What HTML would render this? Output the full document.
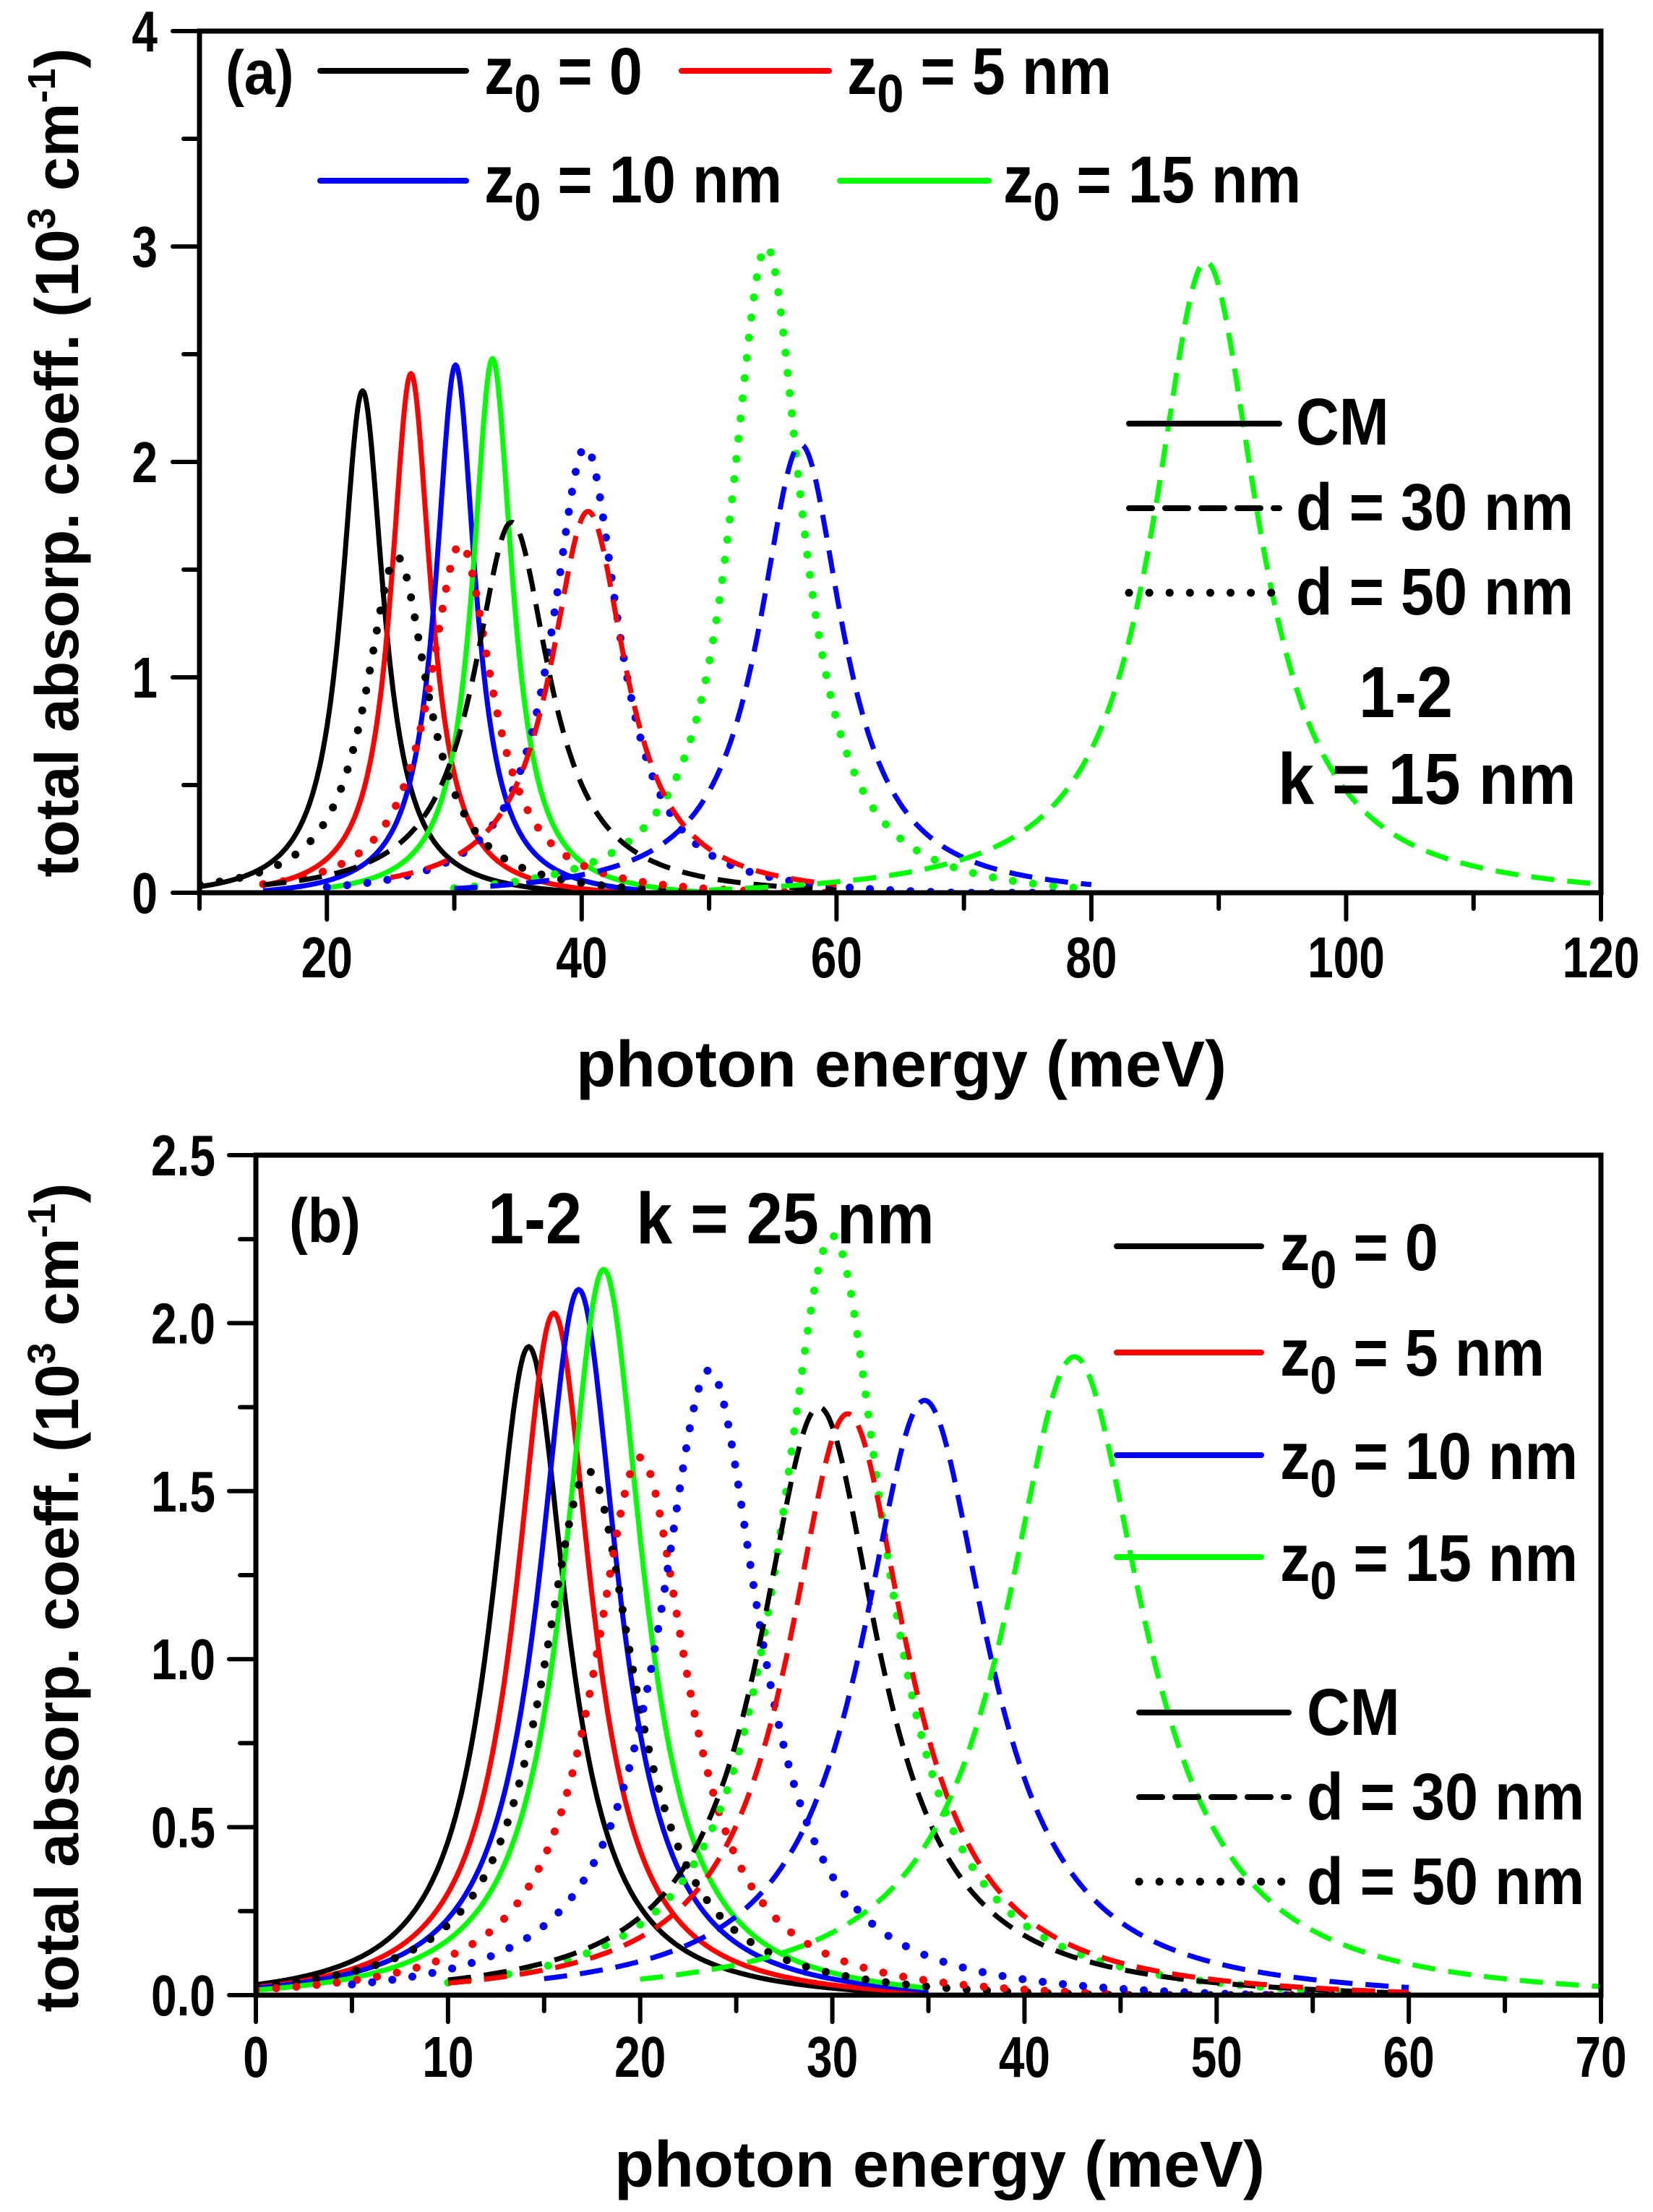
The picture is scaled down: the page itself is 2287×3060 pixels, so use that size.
<!DOCTYPE html>
<html><head><meta charset="utf-8"><style>
html,body{margin:0;padding:0;background:#fff;}
svg{display:block;}
.n{font-family:"Liberation Sans Narrow","Liberation Sans",sans-serif;font-weight:bold;}
.w{font-family:"Liberation Sans",sans-serif;font-weight:bold;}
</style></head><body>
<svg id="s" width="2287" height="3060" viewBox="0 0 2287 3060" xmlns="http://www.w3.org/2000/svg">
<defs>
<clipPath id="ca"><rect x="276" y="43" width="1939" height="1192"/></clipPath>
<clipPath id="cb"><rect x="354" y="1598" width="1861" height="1162"/></clipPath>
</defs>
<g id="ga" clip-path="url(#ca)"></g>
<g id="gb" clip-path="url(#cb)"></g>
<g id="ax"></g>
<g id="lg">
<text class="n" x="312" y="130" font-size="86">(a)</text>
<text class="n" x="670" y="130" font-size="92">z<tspan dy="25" font-size="74">0</tspan><tspan dy="-25"> = 0</tspan></text>
<text class="n" x="1172" y="130" font-size="92">z<tspan dy="25" font-size="74">0</tspan><tspan dy="-25"> = 5 nm</tspan></text>
<text class="n" x="670" y="280" font-size="92">z<tspan dy="25" font-size="74">0</tspan><tspan dy="-25"> = 10 nm</tspan></text>
<text class="n" x="1388" y="280" font-size="92">z<tspan dy="25" font-size="74">0</tspan><tspan dy="-25"> = 15 nm</tspan></text>
<text class="n" x="1793" y="615" font-size="92">CM</text>
<text class="n" x="1793" y="733" font-size="92">d = 30 nm</text>
<text class="n" x="1793" y="850" font-size="92">d = 50 nm</text>
<text class="n" x="1945" y="992" font-size="100" text-anchor="middle">1-2</text>
<text class="n" x="1768" y="1112" font-size="100">k = 15 nm</text>
<text class="n" x="400" y="1718" font-size="86">(b)</text>
<text class="n" x="675" y="1720" font-size="100" xml:space="preserve">1-2   k = 25 nm</text>
<text class="n" x="1771" y="1757" font-size="92">z<tspan dy="25" font-size="74">0</tspan><tspan dy="-25"> = 0</tspan></text>
<text class="n" x="1771" y="1903" font-size="92">z<tspan dy="25" font-size="74">0</tspan><tspan dy="-25"> = 5 nm</tspan></text>
<text class="n" x="1771" y="2046" font-size="92">z<tspan dy="25" font-size="74">0</tspan><tspan dy="-25"> = 10 nm</tspan></text>
<text class="n" x="1771" y="2187" font-size="92">z<tspan dy="25" font-size="74">0</tspan><tspan dy="-25"> = 15 nm</tspan></text>
<text class="n" x="1808" y="2400" font-size="92">CM</text>
<text class="n" x="1808" y="2517" font-size="92">d = 30 nm</text>
<text class="n" x="1808" y="2634" font-size="92">d = 50 nm</text>
</g>
<g id="tx"></g>
<text class="w" x="1247" y="1503" font-size="90" text-anchor="middle">photon energy (meV)</text>
<text class="w" font-size="84" text-anchor="middle" transform="translate(108,640) rotate(-90)">total absorp. coeff. (10<tspan dy="-32" font-size="54">3</tspan><tspan dy="32"> cm</tspan><tspan dy="-32" font-size="54">-1</tspan><tspan dy="32">)</tspan></text>
<text class="w" x="1300" y="3025" font-size="90" text-anchor="middle">photon energy (meV)</text>
<text class="w" font-size="84" text-anchor="middle" transform="translate(108,2210) rotate(-90)">total absorp. coeff. (10<tspan dy="-32" font-size="54">3</tspan><tspan dy="32"> cm</tspan><tspan dy="-32" font-size="54">-1</tspan><tspan dy="32">)</tspan></text>
</svg>
<script>
var NS="http://www.w3.org/2000/svg";
function el(p,t,a){var e=document.createElementNS(NS,t);for(var k in a)e.setAttribute(k,a[k]);p.appendChild(e);return e;}
var C={k:"#000",r:"#f00",b:"#00f",g:"#0f0"};
var STY={s:{},d:{"stroke-dasharray":"32 18"},o:{"stroke-dasharray":"0.1 28","stroke-linecap":"round"}};
function curves(g,P,list){
 list.forEach(function(c){
  var col=c[0],st=c[1],E0=c[2],H=c[3],G=c[4],a=c[5],b=c[6];
  var d="";
  for(var x=a;x<=b+1e-9;x+=0.1){
   var y=(H/0.988)/(1+Math.pow((x-E0)/G,2));
   y=Math.max(0,y-H*0.012);
   var px=P.x0+(x-P.xa)*P.sx, py=P.y0-y*P.sy;
   d+=(d?"L":"M")+px.toFixed(1)+" "+py.toFixed(1);
  }
  var a2={d:d,fill:"none",stroke:C[col],"stroke-width":st=="o"?11:7,"stroke-linejoin":"round"};
  for(var k in STY[st])a2[k]=STY[st][k];
  el(g,"path",a2);
 });
}
var PA={x0:276,xa:10,sx:(2215-276)/110,y0:1235,sy:298};
var PB={x0:354,xa:0,sx:(2215-354)/70,y0:2760,sy:(2760-1598)/2.5};
curves(document.getElementById("ga"),PA,[
 ["k","s",22.8,2.33,2.0,10,40],["r","s",26.6,2.41,1.9,15,45],["b","s",30.1,2.45,1.9,15,45],["g","s",33.0,2.48,1.9,20,50],
 ["k","o",25.5,1.56,3.0,10,50],["r","o",30.5,1.62,3.0,15,60],["b","o",40.3,2.07,3.2,20,80],["g","o",54.5,3.0,3.4,30,80],
 ["k","d",34.5,1.72,3.6,15,60],["r","d",40.5,1.77,3.6,25,60],["b","d",57.2,2.08,4.0,30,80],["g","d",89.0,2.93,5.0,50,120]
]);
curves(document.getElementById("gb"),PB,[
 ["k","s",14.2,1.93,2.4,0,35],["r","s",15.5,2.03,2.4,0,35],["b","s",16.8,2.10,2.5,0,35],["g","s",18.1,2.16,2.5,0,35],
 ["k","o",17.3,1.56,3.0,0,60],["r","o",20.0,1.60,3.0,0,60],["b","o",23.6,1.86,3.2,5,60],["g","o",30.0,2.26,3.4,10,60],
 ["k","d",29.3,1.75,3.8,10,60],["r","d",30.8,1.73,3.8,10,60],["b","d",34.8,1.77,4.0,15,60],["g","d",42.6,1.90,4.4,20,70]
]);
var ax=document.getElementById("ax");
function legline(x1,x2,y,col,st){var a={x1:x1,x2:x2,y1:y,y2:y,stroke:C[col],"stroke-width":st=="o"?11:8,"stroke-linecap":"round"};for(var k in STY[st])a[k]=STY[st][k];el(ax,"line",a);}
legline(443,645,98,"k","s");legline(943,1147,98,"r","s");legline(443,645,250,"b","s");legline(1162,1368,250,"g","s");
legline(1562,1770,586,"k","s");legline(1562,1770,703,"k","d");legline(1562,1770,820,"k","o");
legline(1545,1745,1724,"k","s");legline(1545,1745,1871,"r","s");legline(1545,1745,2013,"b","s");legline(1545,1745,2154,"g","s");
legline(1576,1783,2369,"k","s");legline(1576,1783,2486,"k","d");legline(1576,1783,2603,"k","o");
var tx=document.getElementById("tx");
function frame(P,x1,y1,xmin,xmax,xmaj,xmin2,ymax,ymaj,ymin2,xdec,ydec,xly,yrx){
 el(ax,"rect",{x:P.x0,y:y1,width:x1-P.x0,height:P.y0-y1,fill:"none",stroke:"#000","stroke-width":7});
 for(var v=xmin;v<=xmax+1e-9;v+=xmin2){var px=P.x0+(v-P.xa)*P.sx;var maj=Math.abs(v/xmaj-Math.round(v/xmaj))<1e-6;
  el(ax,"line",{x1:px,x2:px,y1:P.y0,y2:P.y0+(maj?37:22),stroke:"#000","stroke-width":6,"stroke-linecap":"round"});
  if(maj&&v>=P.xa-1e-9){var t=el(tx,"text",{x:px,y:xly,"font-size":80,"text-anchor":"middle","class":"n"});t.textContent=v.toFixed(xdec);}}
 for(var v=0;v<=ymax+1e-9;v+=ymin2){var py=P.y0-v*P.sy;var maj=Math.abs(v/ymaj-Math.round(v/ymaj))<1e-6;
  el(ax,"line",{x1:P.x0,x2:P.x0-(maj?37:22),y1:py,y2:py,stroke:"#000","stroke-width":6,"stroke-linecap":"round"});
  if(maj){var t=el(tx,"text",{x:yrx,y:py+28,"font-size":80,"text-anchor":"end","class":"n"});t.textContent=v.toFixed(ydec);}}
}
frame(PA,2215,43,10,120,20,10,4,1,0.5,0,0,1352,218);
frame(PB,2215,1598,0,70,10,5,2.5,0.5,0.25,0,1,2873,298);
function narrow(g,s){var ts=g.querySelectorAll("text");
 for(var i=0;i<ts.length;i++){var t=ts[i];var x=+t.getAttribute("x"),y=+t.getAttribute("y");
 t.setAttribute("x",0);t.setAttribute("y",0);t.setAttribute("transform","translate("+x+","+y+") scale("+s+",1)");}}
narrow(tx,0.8);narrow(document.getElementById("lg"),0.9);
</script>
</body></html>
